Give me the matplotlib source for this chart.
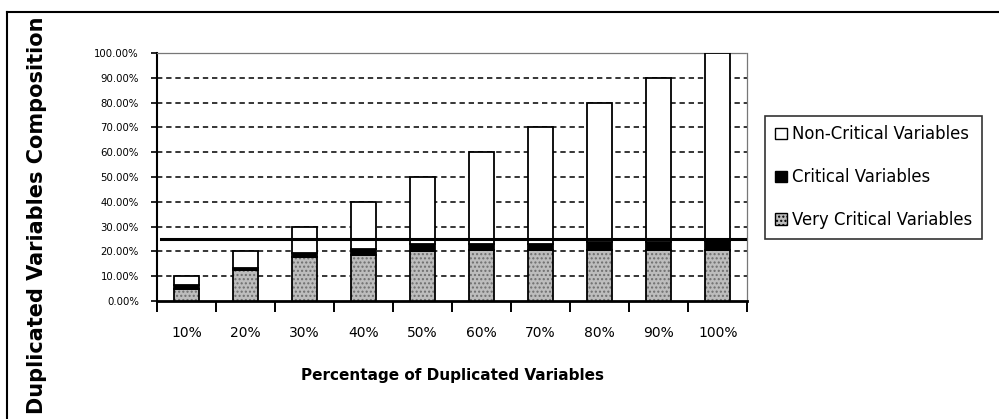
import numpy as np
import matplotlib
matplotlib.use("Agg")
import matplotlib.pyplot as plt
import matplotlib.patches as mpatches
from matplotlib.lines import Line2D

# --- DATA ---
categories = ["10%", "20%", "30%", "40%", "50%", "60%", "70%", "80%", "90%", "100%"]
very_critical = [5.0, 12.5, 17.6, 18.5, 20.3, 20.5, 20.5, 20.5, 20.5, 20.5]
critical = [1.5, 1.0, 1.6, 2.3, 2.7, 2.5, 2.5, 3.3, 3.3, 3.5]
totals = [10, 20, 30, 40, 50, 60, 70, 80, 90, 100]
non_critical = [t - v - c for t, v, c in zip(totals, very_critical, critical)]
threshold = 25.0
y_ticks = [0, 10, 20, 30, 40, 50, 60, 70, 80, 90, 100]
y_tick_labels = ["%.2f%%" % v for v in y_ticks]

GRAY = "#bdbdbd"

fig = plt.figure(figsize=(9.99, 4.19), dpi=100)
ax = fig.add_axes([0.157, 0.2816, 0.591, 0.592])

x = np.arange(len(categories))
w = 0.42

# stacked bars
ax.bar(x, very_critical, w, color=GRAY, edgecolor="#6e6e6e", hatch="....", linewidth=0, zorder=3)
ax.bar(x, very_critical, w, fill=False, edgecolor="black", linewidth=1.3, zorder=4)
ax.bar(x, critical, w, bottom=very_critical, color="black", edgecolor="black", linewidth=1.3, zorder=4)
bottoms = [v + c for v, c in zip(very_critical, critical)]
ax.bar(x, non_critical, w, bottom=bottoms, color="white", edgecolor="black", linewidth=1.3, zorder=4)

# threshold line
ax.axhline(threshold, xmin=0.007, xmax=1.0, color="black", linewidth=2.2, zorder=5)

# dashed gridlines
for yv in y_ticks[1:-1]:
    ax.axhline(yv, color="black", linewidth=1.1, linestyle=(0, (3.5, 2.5)), zorder=1)

ax.set_xlim(-0.5, len(categories) - 0.5)
ax.set_ylim(0, 100)

# spines like an old Excel plot area
ax.spines["left"].set_linewidth(1.5)
ax.spines["bottom"].set_linewidth(2.0)
for s in ["top", "right"]:
    ax.spines[s].set_linestyle((0, (1, 1)))
    ax.spines[s].set_color("#777777")
    ax.spines[s].set_linewidth(0.9)

ax.set_yticks(y_ticks)
ax.set_yticklabels(y_tick_labels, fontsize=7.3, family="DejaVu Sans")
ax.tick_params(axis="y", direction="out", length=4, width=1.2, pad=9)

ax.set_xticks(x)
ax.set_xticklabels(categories, fontsize=10, family="DejaVu Sans")
ax.set_xticks(np.arange(len(categories) + 1) - 0.5, minor=True)
ax.tick_params(axis="x", which="major", length=0, pad=18)
ax.tick_params(axis="x", which="minor", direction="out", length=8, width=1.4)

ax.set_xlabel("Percentage of Duplicated Variables", fontsize=11, fontweight="bold", labelpad=20)
fig.text(0.037, 0.487, "Duplicated Variables Composition", rotation=90, fontsize=15,
         fontweight="bold", ha="center", va="center")

# legend
handles = [
    mpatches.Patch(facecolor="white", edgecolor="black", linewidth=1.0, label="Non-Critical Variables"),
    mpatches.Patch(facecolor="black", edgecolor="black", linewidth=1.0, label="Critical Variables"),
    mpatches.Patch(facecolor=GRAY, edgecolor="black", hatch="....", linewidth=1.0, label="Very Critical Variables"),
]
leg = fig.legend(handles=handles, loc="center left", bbox_to_anchor=(0.766, 0.577),
                 fontsize=11.9, frameon=True, fancybox=False, edgecolor="black",
                 handlelength=0.7, handleheight=0.7, handletextpad=0.3,
                 labelspacing=1.5, borderpad=0.6, borderaxespad=0)
leg.get_frame().set_linewidth(1.2)

# outer frame of the scanned figure
fig.add_artist(Line2D([0.007, 1.0], [0.971, 0.971], transform=fig.transFigure, color="black", linewidth=1.5))
fig.add_artist(Line2D([0.007, 0.007], [0.0, 0.971], transform=fig.transFigure, color="black", linewidth=1.5))

fig.savefig("out.png", dpi=100)
